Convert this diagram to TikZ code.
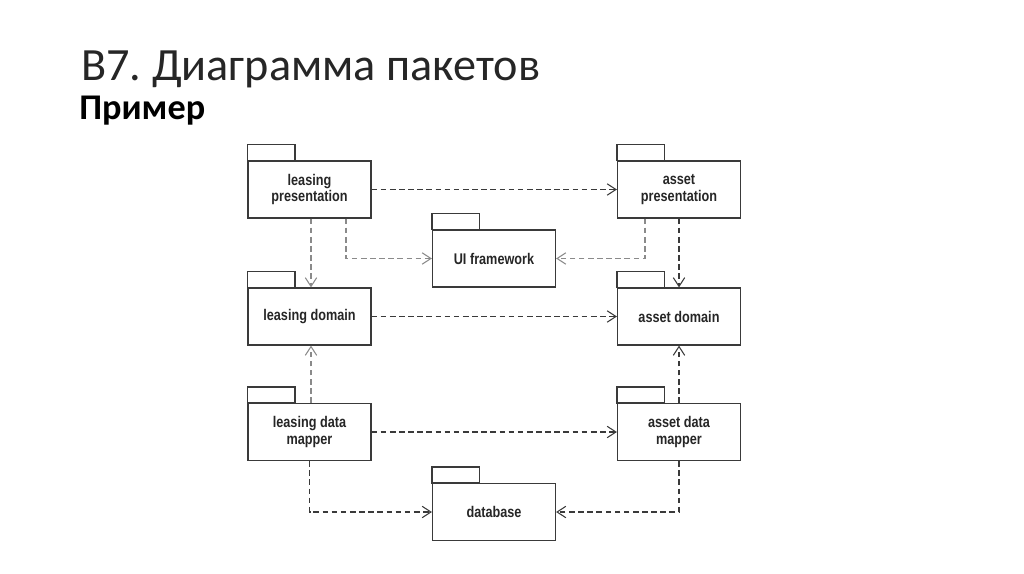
\documentclass[tikz,border=0pt]{standalone}
\usepackage{fontspec}
\setmainfont{Carlito}
\newfontfamily\boxfont{Liberation Sans Bold}[FakeStretch=0.82]
\usepackage{xcolor}
\usetikzlibrary{arrows.meta,positioning}

\definecolor{pkgline}{HTML}{3A3A3A}
\definecolor{deplight}{HTML}{8A8A8A}
\definecolor{depdark}{HTML}{3A3A3A}

\tikzset{
  pkg/.style={draw=pkgline, line width=0.7pt, minimum width=2.46cm, minimum height=1.14cm,
    align=center, font=\boxfont\fontsize{8.8}{9.2}\selectfont, text=black!85, inner sep=0pt},
  dep/.style={draw=depdark, dashed, dash pattern=on 3.2pt off 2pt, line width=0.6pt,
    -{Straight Barb[length=5pt,width=6.5pt]}},
  deplt/.style={dep, draw=deplight}
}

\begin{document}
\frenchspacing
\begin{tikzpicture}[x=0.02cm,y=-0.02cm]

\useasboundingbox[fill=white] (0,0) rectangle (1024,574);

\node[anchor=base west, inner sep=0pt, font=\fontsize{26.3}{30}\selectfont, text=black!85] (title) at (81,81) {В7. Диаграмма пакетов};
\node[anchor=base west, inner sep=0pt, font=\bfseries\fontsize{20.6}{25}\selectfont] (sub) at (79,120) {Пример};

\node[pkg] (lp) at (309.5,189.5) {leasing\\presentation};
\node[pkg] (ap) at (679,189.5) {asset\\presentation};
\node[pkg] (ui) at (494,258.5) {UI framework};
\node[pkg] (ld) at (309.5,316.5) {leasing domain};
\node[pkg] (ad) at (679,316.5) {asset domain};
\node[pkg] (lm) at (309.5,432) {leasing data\\mapper};
\node[pkg] (am) at (679,432) {asset data\\mapper};
\node[pkg] (db) at (494,512) {database};

% tabs
\foreach \p in {lp,ap,ui,ld,ad,lm,am,db}
  \draw[pkgline, line width=0.7pt] (\p.north west) rectangle ++(0.95cm,0.32cm);

\draw[dep] (lp.east) -- (ap.west);
\draw[deplt] ([xshift=0.03cm]lp.south) -- ([xshift=0.03cm]ld.north);
\draw[deplt] ([xshift=0.73cm]lp.south) |- (ui.west);
\draw[deplt] ([xshift=-0.68cm]ap.south) |- (ui.east);
\draw[dep] (ap.south) -- (ad.north);
\draw[dep] (ld.east) -- (ad.west);
\draw[deplt] ([xshift=0.03cm]lm.north) -- ([xshift=0.03cm]ld.south);
\draw[dep] (am.north) -- (ad.south);
\draw[dep] (lm.east) -- (am.west);
\draw[dep] (lm.south) |- (db.west);
\draw[dep] (am.south) |- (db.east);

\end{tikzpicture}
\end{document}
